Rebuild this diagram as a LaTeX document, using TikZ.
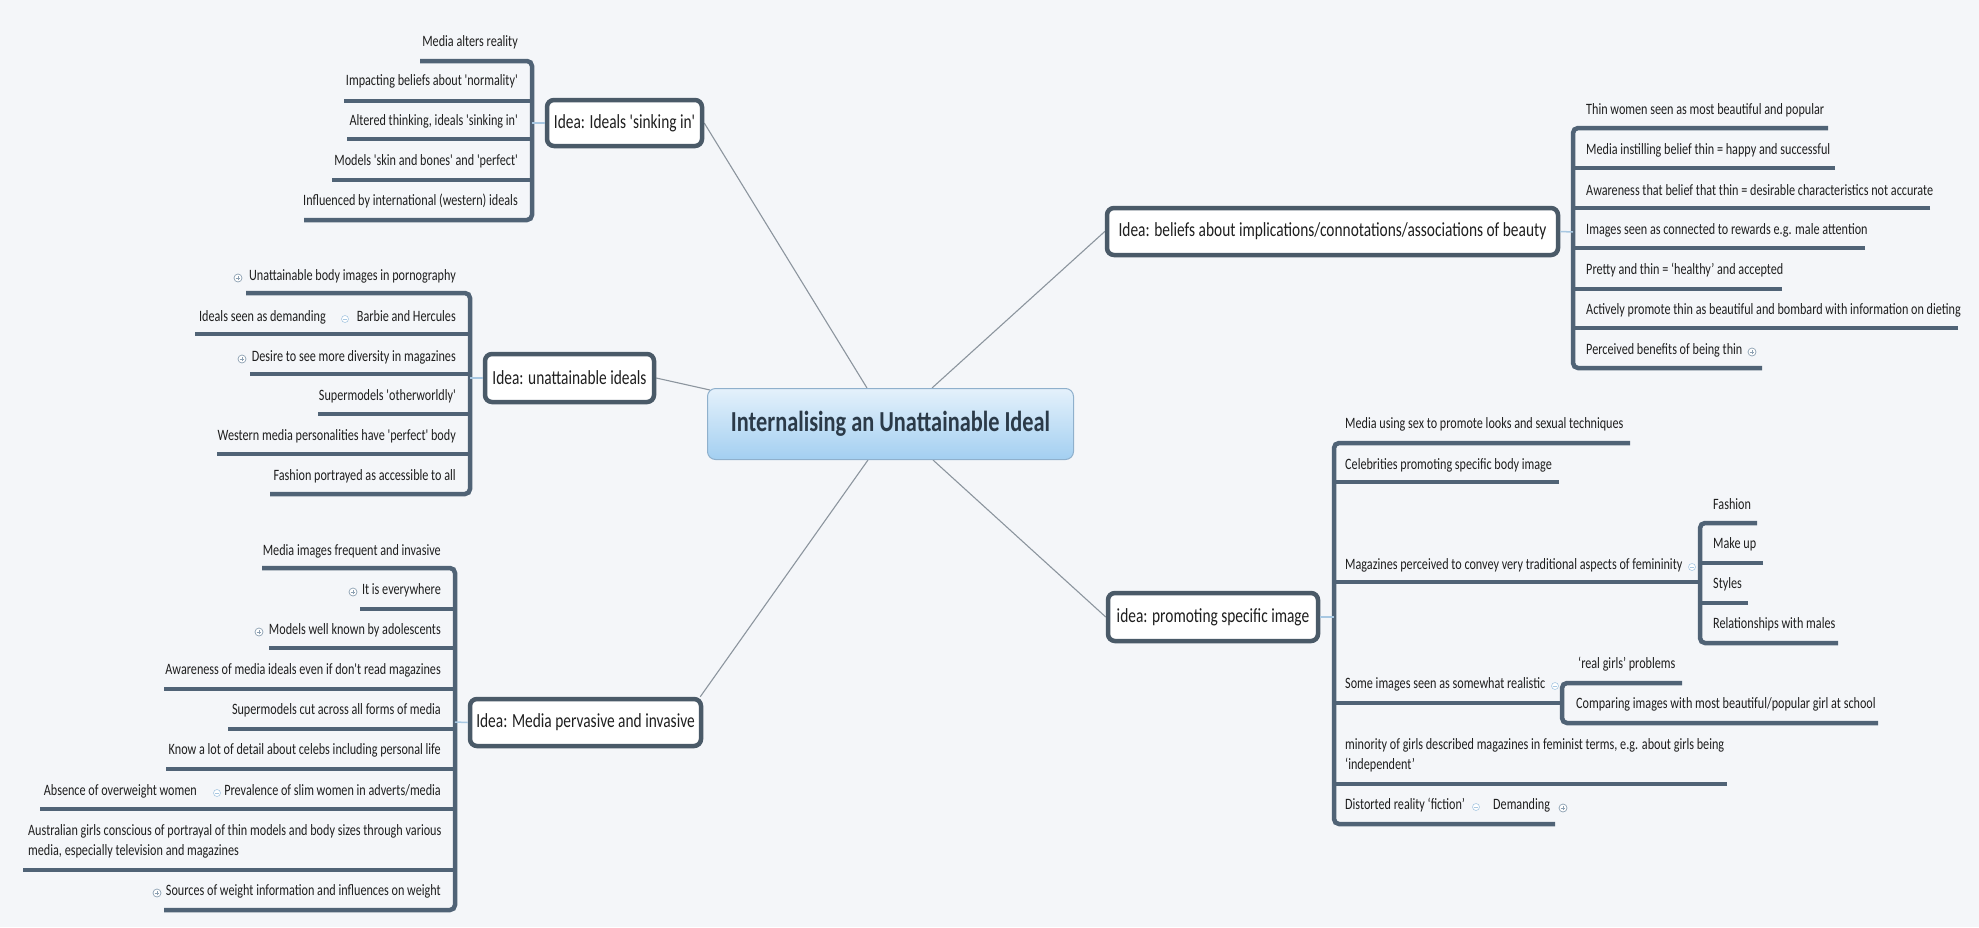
\documentclass[tikz,border=0pt]{standalone}
\usepackage{fontspec}
\newfontfamily\cfont[FakeStretch=0.77,Ligatures=TeXOff]{Carlito}
\usetikzlibrary{calc,backgrounds}
\definecolor{bgc}{HTML}{F4F6F9}
\definecolor{ulc}{HTML}{506376}
\definecolor{boxc}{HTML}{4A5A68}
\definecolor{txtc}{HTML}{1E1E1E}
\definecolor{lnc}{HTML}{8C959E}
\definecolor{iconc}{HTML}{8CA0B2}
\definecolor{lblue}{HTML}{A8C8E2}
\definecolor{cenTop}{HTML}{E4F1FB}
\definecolor{cenBot}{HTML}{A3CFF1}
\definecolor{cenBd}{HTML}{8FB0CC}
\definecolor{cenTx}{HTML}{2B3A48}
\tikzset{
  leaf/.style={font=\cfont\fontsize{15.8}{20}\selectfont, text=txtc, inner sep=0pt, text height=0.7em, text depth=0.2em},
  leafml/.style={font=\cfont\fontsize{15.8}{20}\selectfont, text=txtc, inner sep=0pt, align=left},
  ul/.style={draw=ulc, line width=4.5pt},
  brk/.style={draw=ulc, line width=4.5pt, rounded corners=5pt},
  idea/.style={draw=boxc, line width=4.5pt, fill=white, rounded corners=7pt, font=\cfont\fontsize{20}{24}\selectfont, text=txtc, inner sep=0pt},
  centre/.style={draw=cenBd, line width=1pt, top color=cenTop, bottom color=cenBot, rounded corners=8pt, font=\cfont\bfseries\fontsize{29}{34}\selectfont, text=cenTx, inner sep=0pt, minimum width=366pt, minimum height=71pt},
  link/.style={draw=lnc, line width=1.1pt},
  tie/.style={draw=lblue, line width=1.5pt},
  plusicon/.style={circle, draw=iconc, line width=0.7pt, fill=white, minimum size=8pt, inner sep=0pt,
    path picture={\draw[iconc, line width=0.7pt] ([xshift=-2.3pt]path picture bounding box.center) -- ([xshift=2.3pt]path picture bounding box.center) ([yshift=-2.3pt]path picture bounding box.center) -- ([yshift=2.3pt]path picture bounding box.center);}},
  minusicon/.style={circle, draw=lblue, line width=0.6pt, fill=white, minimum size=7pt, inner sep=0pt,
    path picture={\draw[lblue, line width=0.8pt] ([xshift=-2pt]path picture bounding box.center) -- ([xshift=2pt]path picture bounding box.center);}},
}
\begin{document}
\begin{tikzpicture}[x=1pt,y=-1pt]
\useasboundingbox (0,0) rectangle (1979,927);

% ---------- central ----------
\node[centre] (cen) at (890.5,424) {Internalising an Unattainable Ideal};

% ---------- idea boxes ----------
\node[idea, minimum width=155pt, minimum height=46pt] (A) at (624.5,123) {Idea: Ideals 'sinking in'};
\node[idea, minimum width=169pt, minimum height=48pt] (B) at (569.5,378) {Idea: unattainable ideals};
\node[idea, minimum width=231pt, minimum height=47pt] (C) at (585.5,722.5) {Idea: Media pervasive and invasive};
\node[idea, minimum width=451pt, minimum height=47pt] (D) at (1332.5,231.5) {Idea: beliefs about implications/connotations/associations of beauty};
\node[idea, minimum width=210pt, minimum height=48pt] (E) at (1213,617) {idea: promoting specific image};

% ---------- group A ----------
\node[leaf, anchor=east] (a1) at (518,44) {Media alters reality};
\node[leaf, anchor=east] (a2) at (518,83) {Impacting beliefs about 'normality'};
\node[leaf, anchor=east] (a3) at (518,123) {Altered thinking, ideals 'sinking in'};
\node[leaf, anchor=east] (a4) at (518,163) {Models 'skin and bones' and 'perfect'};
\node[leaf, anchor=east] (a5) at (518,203) {Influenced by international (western) ideals};
\draw[brk] (420,61) -- (532,61) -- (532,220) -- (304,220);
\draw[ul] (344,101) -- (532,101);
\draw[ul] (347,139) -- (532,139);
\draw[ul] (332,180) -- (532,180);
\coordinate (Abr) at (532,123);
\draw[tie] (Abr) -- (A.west);

% ---------- group B ----------
\node[leaf, anchor=east] (b1) at (456,278) {Unattainable body images in pornography};
\node[plusicon] (b1p) at (238,278) {};
\node[leaf, anchor=east] (b2) at (456,319) {Barbie and Hercules};
\node[minusicon] (b2m) at (345,319) {};
\node[leaf, anchor=east] (b2a) at (326,319) {Ideals seen as demanding};
\node[leaf, anchor=east] (b3) at (456,359) {Desire to see more diversity in magazines};
\node[plusicon] (b3p) at (242,359) {};
\node[leaf, anchor=east] (b4) at (456,398) {Supermodels 'otherworldly'};
\node[leaf, anchor=east] (b5) at (456,438) {Western media personalities have 'perfect' body};
\node[leaf, anchor=east] (b6) at (456,478) {Fashion portrayed as accessible to all};
\draw[brk] (246,293) -- (470,293) -- (470,494) -- (270,494);
\draw[ul] (195,334) -- (470,334);
\draw[ul] (250,374) -- (470,374);
\draw[ul] (318,414) -- (470,414);
\draw[ul] (217,454) -- (470,454);
\coordinate (Bbr) at (470,378);
\draw[tie] (Bbr) -- (B.west);

% ---------- group C ----------
\node[leaf, anchor=east] (c1) at (441,553) {Media images frequent and invasive};
\node[leaf, anchor=east] (c2) at (441,592) {It is everywhere};
\node[plusicon] (c2p) at (353,592) {};
\node[leaf, anchor=east] (c3) at (441,632) {Models well known by adolescents};
\node[plusicon] (c3p) at (259,632) {};
\node[leaf, anchor=east] (c4) at (441,672) {Awareness of media ideals even if don't read magazines};
\node[leaf, anchor=east] (c5) at (441,712) {Supermodels cut across all forms of media};
\node[leaf, anchor=east] (c6) at (441,752) {Know a lot of detail about celebs including personal life};
\node[leaf, anchor=east] (c7) at (441,793) {Prevalence of slim women in adverts/media};
\node[minusicon] (c7m) at (217,793) {};
\node[leaf, anchor=east] (c7a) at (197,793) {Absence of overweight women};
\node[leafml, anchor=north west] (c8) at (28,824) {Australian girls conscious of portrayal of thin models and body sizes through various\\media, especially television and magazines};
\node[leaf, anchor=east] (c9) at (441,893) {Sources of weight information and influences on weight};
\node[plusicon] (c9p) at (157,893) {};
\draw[brk] (262,568) -- (455,568) -- (455,910) -- (164,910);
\draw[ul] (360,609) -- (455,609);
\draw[ul] (269,648) -- (455,648);
\draw[ul] (164,689) -- (455,689);
\draw[ul] (228,729) -- (455,729);
\draw[ul] (166,769) -- (455,769);
\draw[ul] (40,809) -- (455,809);
\draw[ul] (23,870) -- (455,870);
\coordinate (Cbr) at (455,722);
\draw[tie] (Cbr) -- (C.west);

% ---------- group D ----------
\node[leaf, anchor=west] (d1) at (1586,112) {Thin women seen as most beautiful and popular};
\node[leaf, anchor=west] (d2) at (1586,152) {Media instilling belief thin = happy and successful};
\node[leaf, anchor=west] (d3) at (1586,193) {Awareness that belief that thin = desirable characteristics not accurate};
\node[leaf, anchor=west] (d4) at (1586,232) {Images seen as connected to rewards e.g. male attention};
\node[leaf, anchor=west] (d5) at (1586,272) {Pretty and thin = ‘healthy’ and accepted};
\node[leaf, anchor=west] (d6) at (1586,312) {Actively promote thin as beautiful and bombard with information on dieting};
\node[leaf, anchor=west] (d7) at (1586,352) {Perceived benefits of being thin};
\node[plusicon] (d7p) at (1752,352) {};
\draw[brk] (1828,128) -- (1573,128) -- (1573,368) -- (1762,368);
\draw[ul] (1835,168) -- (1573,168);
\draw[ul] (1930,208) -- (1573,208);
\draw[ul] (1865,248) -- (1573,248);
\draw[ul] (1782,289) -- (1573,289);
\draw[ul] (1958,328) -- (1573,328);
\coordinate (Dbr) at (1573,232);
\draw[tie] (Dbr) -- (D.east);

% ---------- group E ----------
\node[leaf, anchor=west] (e1) at (1345,426) {Media using sex to promote looks and sexual techniques};
\node[leaf, anchor=west] (e2) at (1345,467) {Celebrities promoting specific body image};
\node[leaf, anchor=west] (e3) at (1345,567) {Magazines perceived to convey very traditional aspects of femininity};
\node[minusicon] (e3m) at (1692,567) {};
\node[leaf, anchor=west] (e3a) at (1713,507) {Fashion};
\node[leaf, anchor=west] (e3b) at (1713,546) {Make up};
\node[leaf, anchor=west] (e3c) at (1713,586) {Styles};
\node[leaf, anchor=west] (e3d) at (1713,626) {Relationships with males};
\node[leaf, anchor=west] (e4) at (1345,686) {Some images seen as somewhat realistic};
\node[minusicon] (e4m) at (1555,686) {};
\node[leaf, anchor=west] (e4a) at (1578,666) {‘real girls’ problems};
\node[leaf, anchor=west] (e4b) at (1576,706) {Comparing images with most beautiful/popular girl at school};
\node[leafml, anchor=north west] (e5) at (1345,738) {minority of girls described magazines in feminist terms, e.g. about girls being\\‘independent’};
\node[leaf, anchor=west] (e6) at (1345,807) {Distorted reality ‘fiction’};
\node[minusicon] (e6m) at (1476,807) {};
\node[leaf, anchor=west] (e6a) at (1493,807) {Demanding};
\node[plusicon] (e6p) at (1563,808) {};
\draw[brk] (1630,443) -- (1334,443) -- (1334,824) -- (1555,824);
\draw[ul] (1559,482) -- (1334,482);
\draw[ul] (1700,582) -- (1334,582);
\draw[ul] (1562,703) -- (1334,703);
\draw[ul] (1727,784) -- (1334,784);
\draw[brk] (1757,523) -- (1700,523) -- (1700,643) -- (1838,643);
\draw[ul] (1763,563) -- (1700,563);
\draw[ul] (1748,603) -- (1700,603);
\draw[brk] (1682,683) -- (1562,683) -- (1562,723) -- (1878,723);
\coordinate (Ebr) at (1334,617);
\draw[tie] (Ebr) -- (E.east);

% ---------- background and central links ----------
\begin{scope}[on background layer]
\fill[bgc] (0,0) rectangle (1979,927);
\draw[link] (A.east) -- ([xshift=-23.5pt]cen.north);
\draw[link] (B.east) -- ([xshift=3pt,yshift=-2pt]cen.north west);
\draw[link] ([xshift=-3pt]C.north east) -- ([xshift=-22.5pt]cen.south);
\draw[link] (D.west) -- ([xshift=41.5pt]cen.north);
\draw[link] (E.west) -- ([xshift=42.5pt]cen.south);
\end{scope}
\end{tikzpicture}
\end{document}
